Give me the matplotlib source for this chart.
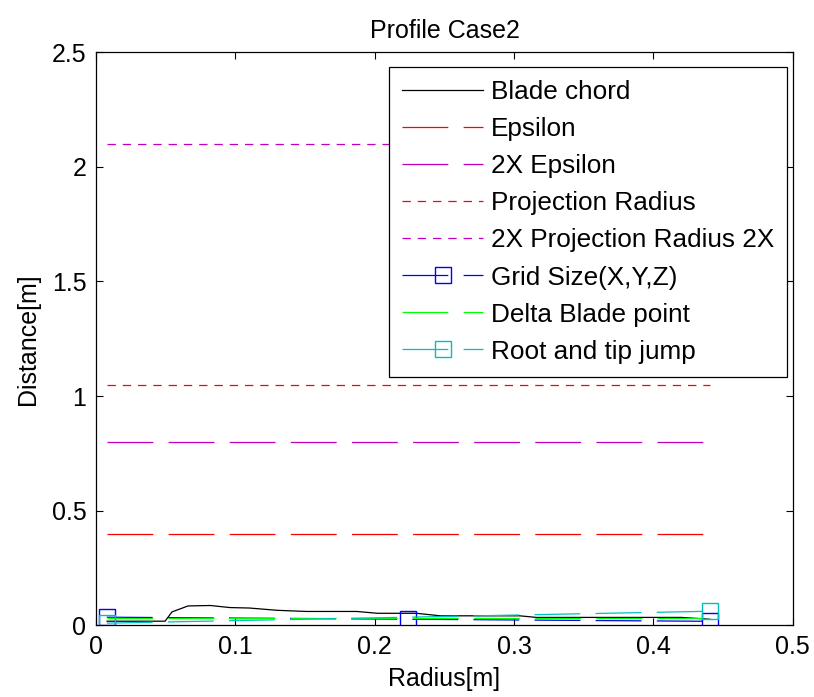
import numpy as np
import matplotlib
matplotlib.use("Agg")
import matplotlib.pyplot as plt

plt.rcParams['font.family'] = ['Liberation Sans', 'DejaVu Sans']
plt.rcParams['lines.scale_dashes'] = False

# radius span of the blade
r_start = 0.0077
r_end = 0.4405
r_mid = 0.2241

# blade chord profile
chord_r = [0.0079, 0.0495, 0.0545, 0.066, 0.082, 0.096, 0.110, 0.130, 0.151, 0.187,
           0.202, 0.230, 0.247, 0.304, 0.316, 0.420, 0.4405]
chord_c = [0.0175, 0.0175, 0.058, 0.084, 0.086, 0.077, 0.075, 0.065, 0.060, 0.060,
           0.052, 0.052, 0.041, 0.041, 0.034, 0.034, 0.026]

epsilon = 0.4
proj_radius = 1.05
delta_blade = 0.033

grid_r = [r_start, r_mid, r_end]
grid_size = [0.035, 0.026, 0.017]

jump_r = [r_start, r_end]
jump = [0.009, 0.061]

long_dash = (33, 11)
short_dash = (6, 5)
lw = 0.9

fig = plt.figure(figsize=(8.14, 6.97), dpi=100)
ax = fig.add_axes([0.118, 0.103, 0.856, 0.822])

ax.plot(chord_r, chord_c, color='k', lw=lw, label='Blade chord')
ax.plot([r_start, r_end], [epsilon, epsilon], color='r', lw=lw, dashes=long_dash, label='Epsilon')
ax.plot([r_start, r_end], [2 * epsilon, 2 * epsilon], color='m', lw=lw, dashes=long_dash, label='2X Epsilon')
ax.plot([r_start, r_end], [proj_radius, proj_radius], color='r', lw=lw, dashes=short_dash, label='Projection Radius')
ax.plot([r_start, r_end], [2 * proj_radius, 2 * proj_radius], color='m', lw=lw, dashes=short_dash,
        label='2X Projection Radius 2X')
ax.plot(grid_r, grid_size, color='b', lw=lw, dashes=long_dash, marker='s', ms=11.5, mfc='none',
        mew=1, label='Grid Size(X,Y,Z)')
ax.plot([r_start, r_end], [delta_blade, delta_blade], color='#00ff00', lw=lw, dashes=long_dash,
        label='Delta Blade point')
ax.plot(jump_r, jump, color='c', lw=lw, dashes=long_dash, marker='s', ms=11.5, mfc='none',
        mew=1, label='Root and tip jump')

ax.set_xlim(0, 0.5)
ax.set_ylim(0, 2.5)
ax.set_xticks([0, 0.1, 0.2, 0.3, 0.4, 0.5])
ax.set_xticklabels(['0', '0.1', '0.2', '0.3', '0.4', '0.5'])
ax.set_yticks([0, 0.5, 1, 1.5, 2, 2.5])
ax.set_yticklabels(['0', '0.5', '1', '1.5', '2', '2.5'])
ax.tick_params(direction='in', top=True, right=True, length=5, width=0.8, labelsize=18, pad=7)
for s in ax.spines.values():
    s.set_linewidth(0.9)

ax.set_xlabel('Radius[m]', fontsize=18, labelpad=6)
ax.set_ylabel('Distance[m]', fontsize=18, labelpad=8)
ax.set_title('Profile Case2', fontsize=18, pad=10)

leg = ax.legend(loc='upper right', bbox_to_anchor=(0.992, 0.974), borderaxespad=0,
                fontsize=18.8, handlelength=3.1, handletextpad=0.3, labelspacing=0.5,
                borderpad=0.5, fancybox=False, framealpha=1, edgecolor='k')
leg.get_frame().set_linewidth(0.9)

fig.savefig('out.png', dpi=100)
